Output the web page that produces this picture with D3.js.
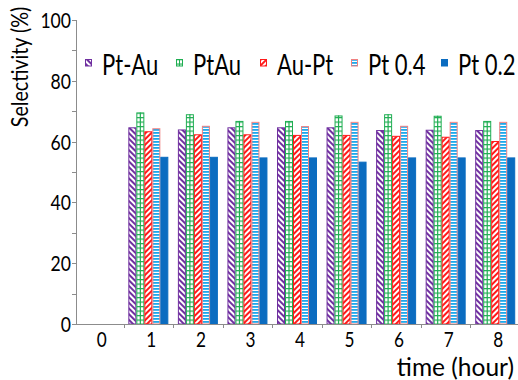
<!DOCTYPE html>
<html>
<head>
<meta charset="utf-8">
<script src="https://cdn.jsdelivr.net/npm/d3@7"></script>
<style>
  html, body { margin: 0; padding: 0; background: #fff; }
  svg { display: block; }
  text { font-family: Lato, "Noto Sans", sans-serif; fill: #000; }
</style>
</head>
<body>
<svg id="chart" width="518" height="380"></svg>
<script>
// Selectivity of each catalyst over time
const hours = ["0", "1", "2", "3", "4", "5", "6", "7", "8"];
const seriesNames = ["Pt-Au", "PtAu", "Au-Pt", "Pt 0.4", "Pt 0.2"];
// hour 0 has no measurement
const ptAuAlloy = [null, 64.7, 64.0, 64.7, 64.7, 64.7, 63.8, 63.9, 63.8];
const ptAu      = [null, 69.6, 69.0, 66.8, 66.8, 68.6, 69.0, 68.5, 66.8];
const auPt      = [null, 63.4, 62.4, 62.4, 62.2, 62.2, 61.9, 61.6, 60.2];
const pt04      = [null, 64.4, 65.2, 66.5, 65.1, 66.5, 65.2, 66.5, 66.5];
const pt02      = [null, 55.0, 55.0, 54.8, 54.8, 53.4, 54.8, 54.8, 54.8];
const seriesValues = [ptAuAlloy, ptAu, auPt, pt04, pt02];
const yTicks = [0, 10, 20, 30, 40, 50, 60, 70, 80, 90, 100];
const yLabels = [0, 20, 40, 60, 80, 100];

const svg = d3.select("#chart");
const axisColor = "#8c8c8c";
const squeeze = 0.8;  // narrow letterforms

// fill patterns
const defs = svg.append("defs");
function stripes(id, angle, color, period, width) {
  const p = defs.append("pattern").attr("id", id)
    .attr("patternUnits", "userSpaceOnUse")
    .attr("width", period).attr("height", period)
    .attr("patternTransform", `rotate(${angle})`);
  p.append("rect").attr("width", period).attr("height", period).attr("fill", "#fff");
  p.append("rect").attr("width", width).attr("height", period).attr("fill", color);
}
stripes("pDown", -45, "#7030a0", 4, 2);
stripes("pUp", 45, "#ff1a1a", 4, 2);
// horizontal stripes
{
  const p = defs.append("pattern").attr("id", "pHoriz")
    .attr("patternUnits", "userSpaceOnUse").attr("width", 4).attr("height", 3);
  p.append("rect").attr("width", 4).attr("height", 3).attr("fill", "#fff");
  p.append("rect").attr("width", 4).attr("height", 1.8).attr("fill", "#1ca8ec");
}
// horizontal grid rules (vertical rule drawn per bar)
{
  const p = defs.append("pattern").attr("id", "pGridH")
    .attr("patternUnits", "userSpaceOnUse").attr("width", 4).attr("height", 4.5);
  p.append("rect").attr("width", 4).attr("height", 4.5).attr("fill", "#fff");
  p.append("rect").attr("width", 4).attr("height", 1.2).attr("fill", "#1fae52");
}

const styles = [
  { fill: "url(#pDown)", stroke: "#7030a0" },
  { fill: "url(#pGridH)", stroke: "#1fae52", grid: "#1fae52" },
  { fill: "url(#pUp)", stroke: "#ff1a1a" },
  { fill: "url(#pHoriz)", stroke: "#f08080" },
  { fill: "#0b6cc0", stroke: "#0b6cc0" }
];

const y = d3.scaleLinear().domain([0, 100]).range([324, 20]);
const x = d3.scaleBand().domain(hours).range([74, 520]);
const groupWidth = 40;
const xs = d3.scaleBand().domain(seriesNames)
  .range([(x.bandwidth() - groupWidth) / 2, (x.bandwidth() + groupWidth) / 2]);

// bars
seriesNames.forEach((name, si) => {
  const st = styles[si];
  const data = hours.map((h, i) => ({ h, v: seriesValues[si][i] })).filter(d => d.v != null);
  const g = svg.append("g");
  g.selectAll("rect").data(data).join("rect")
    .attr("x", d => x(d.h) + xs(name) + 0.5)
    .attr("y", d => y(d.v) + 0.5)
    .attr("width", xs.bandwidth() - 1)
    .attr("height", d => y(0) - y(d.v) - 0.5)
    .attr("fill", st.fill)
    .attr("stroke", st.stroke)
    .attr("stroke-width", 1);
  if (st.grid) {
    g.selectAll("line").data(data).join("line")
      .attr("x1", d => x(d.h) + xs(name) + xs.bandwidth() / 2)
      .attr("x2", d => x(d.h) + xs(name) + xs.bandwidth() / 2)
      .attr("y1", d => y(d.v)).attr("y2", y(0))
      .attr("stroke", st.grid).attr("stroke-width", 1.2);
  }
});

// y axis
svg.append("line").attr("x1", 76.5).attr("x2", 76.5).attr("y1", y(100)).attr("y2", y(0))
  .attr("stroke", axisColor);
svg.append("g").selectAll("line").data(yTicks).join("line")
  .attr("x1", 72).attr("x2", 76.5)
  .attr("y1", d => Math.round(y(d)) + 0.5).attr("y2", d => Math.round(y(d)) + 0.5)
  .attr("stroke", axisColor);
svg.append("g").selectAll("text").data(yLabels).join("text")
  .attr("transform", d => `translate(71,${y(d) + 8}) scale(${squeeze},1)`)
  .attr("text-anchor", "end")
  .attr("font-size", 22)
  .text(d => d);

// x axis
svg.append("line").attr("x1", 76).attr("x2", 518).attr("y1", y(0) + 0.5).attr("y2", y(0) + 0.5)
  .attr("stroke", axisColor);
svg.append("g").selectAll("line").data(hours.slice(1)).join("line")
  .attr("x1", d => Math.round(x(d)) + 0.5).attr("x2", d => Math.round(x(d)) + 0.5)
  .attr("y1", y(0)).attr("y2", y(0) + 4)
  .attr("stroke", axisColor);
svg.append("g").selectAll("text").data(hours).join("text")
  .attr("transform", d => `translate(${x(d) + x.bandwidth() / 2 + 3},346.5) scale(0.82,1)`)
  .attr("text-anchor", "middle")
  .attr("font-size", 21)
  .text(d => d);

// axis titles
svg.append("text")
  .attr("transform", `translate(514,376) scale(0.98,1)`)
  .attr("text-anchor", "end")
  .attr("font-size", 25)
  .text("time (hour)");
svg.append("text")
  .attr("transform", `translate(28,67) rotate(-90) scale(0.82,1)`)
  .attr("text-anchor", "middle")
  .attr("font-size", 24)
  .text("Selectivity (%)");

// legend
const legendX = [85, 176, 260, 351, 441];
const legend = svg.append("g");
seriesNames.forEach((name, si) => {
  const st = styles[si];
  const lg = legend.append("g").attr("transform", `translate(${legendX[si]},59)`);
  lg.append("rect").attr("x", 0.5).attr("y", 0.5).attr("width", 6).attr("height", 6.5)
    .attr("fill", st.fill).attr("stroke", st.stroke);
  if (st.grid) {
    lg.append("line").attr("x1", 3.5).attr("x2", 3.5).attr("y1", 0.5).attr("y2", 7)
      .attr("stroke", st.grid);
  }
  lg.append("text")
    .attr("transform", `translate(17,16) scale(${squeeze * 0.95},1)`)
    .attr("font-size", 29)
    .text(name);
});
</script>
</body>
</html>
